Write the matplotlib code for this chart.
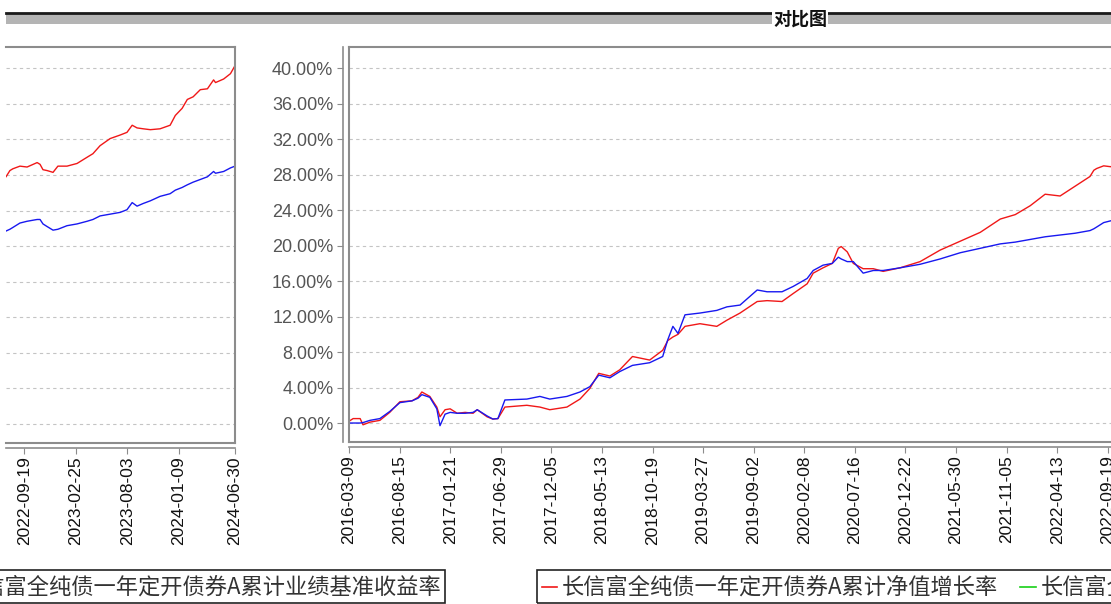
import matplotlib
matplotlib.use("Agg")
import matplotlib.pyplot as plt
import matplotlib.dates as mdates
from matplotlib.lines import Line2D
from matplotlib.patches import Rectangle
import pandas as pd

# chart data, percent
dates = [
    "2016-03-09", "2016-03-22", "2016-04-13", "2016-04-22", "2016-05-14",
    "2016-06-14", "2016-07-15", "2016-08-16", "2016-09-23", "2016-10-12",
    "2016-10-24", "2016-11-18", "2016-12-10", "2016-12-20", "2017-01-05",
    "2017-01-21", "2017-02-12", "2017-03-09", "2017-04-03", "2017-04-16",
    "2017-05-17", "2017-06-04", "2017-06-20", "2017-07-12", "2017-09-19",
    "2017-10-30", "2017-11-30", "2018-01-23", "2018-03-05", "2018-04-05",
    "2018-05-03", "2018-06-07", "2018-07-08", "2018-08-17", "2018-10-10",
    "2018-11-20", "2018-12-06", "2018-12-22", "2019-01-07", "2019-01-29",
    "2019-03-17", "2019-05-09", "2019-06-10", "2019-07-21", "2019-09-13",
    "2019-10-14", "2019-11-30", "2020-01-04", "2020-02-17", "2020-03-07",
    "2020-04-07", "2020-05-06", "2020-05-25", "2020-06-03", "2020-06-22",
    "2020-07-11", "2020-08-11", "2020-09-12", "2020-10-13", "2020-12-05",
    "2021-02-06", "2021-04-10", "2021-06-12", "2021-08-14", "2021-10-16",
    "2021-12-02", "2022-01-18", "2022-03-06", "2022-04-22", "2022-06-08",
    "2022-07-25", "2022-08-06", "2022-08-15", "2022-09-06", "2022-09-28",
    "2022-10-29", "2022-11-07", "2022-11-16", "2022-11-29", "2022-12-17",
    "2023-01-01", "2023-01-29", "2023-03-01", "2023-04-01", "2023-04-19",
    "2023-05-11", "2023-06-11", "2023-07-12", "2023-08-02", "2023-08-18",
    "2023-09-02", "2023-09-21", "2023-10-13", "2023-11-12", "2023-12-13",
    "2023-12-29", "2024-01-19", "2024-02-04", "2024-02-22", "2024-03-15",
    "2024-04-06", "2024-04-25", "2024-05-01", "2024-05-26", "2024-06-16",
    "2024-06-30",
]
nav_growth = [
    0.2, 0.5, 0.5, -0.2, 0.1, 0.3, 1.2, 2.4, 2.5, 2.9,
    3.5, 3.0, 1.8, 0.7, 1.5, 1.6, 1.1, 1.2, 1.1, 1.5,
    0.7, 0.45, 0.5, 1.8, 2.0, 1.8, 1.5, 1.8, 2.7, 3.9,
    5.6, 5.3, 6.0, 7.5, 7.1, 8.2, 9.3, 9.7, 10.0, 10.9,
    11.2, 10.9, 11.6, 12.4, 13.7, 13.8, 13.7, 14.6, 15.7, 16.9,
    17.5, 18.0, 19.7, 19.9, 19.3, 18.0, 17.4, 17.4, 17.1, 17.5,
    18.2, 19.5, 20.5, 21.5, 23.0, 23.5, 24.5, 25.8, 25.6, 26.7,
    27.8, 28.5, 28.7, 29.0, 28.9, 29.4, 29.2, 28.6, 28.5, 28.3,
    29.0, 29.0, 29.3, 30.0, 30.4, 31.3, 32.1, 32.5, 32.8, 33.6,
    33.3, 33.2, 33.1, 33.2, 33.6, 34.7, 35.5, 36.5, 36.8, 37.6,
    37.7, 38.7, 38.4, 38.8, 39.4, 40.3,
]
benchmark = [
    0.0, 0.0, 0.0, 0.05, 0.3, 0.5, 1.3, 2.3, 2.5, 2.8,
    3.2, 2.9, 1.6, -0.3, 1.0, 1.2, 1.1, 1.1, 1.2, 1.5,
    0.8, 0.45, 0.5, 2.6, 2.7, 3.0, 2.7, 3.0, 3.5, 4.1,
    5.4, 5.1, 5.8, 6.5, 6.8, 7.5, 9.4, 10.9, 10.1, 12.2,
    12.4, 12.7, 13.1, 13.3, 15.0, 14.8, 14.8, 15.4, 16.3, 17.2,
    17.8, 18.0, 18.7, 18.5, 18.2, 18.2, 16.9, 17.2, 17.2, 17.5,
    17.9, 18.5, 19.2, 19.7, 20.2, 20.4, 20.7, 21.0, 21.2, 21.4,
    21.7, 21.9, 22.1, 22.6, 22.8, 23.0, 23.0, 22.5, 22.2, 21.8,
    21.9, 22.3, 22.5, 22.8, 23.0, 23.4, 23.6, 23.8, 24.1, 24.9,
    24.5, 24.8, 25.1, 25.6, 25.9, 26.3, 26.6, 26.9, 27.2, 27.5,
    27.8, 28.4, 28.2, 28.4, 28.8, 29.0,
]
ticks_main = ["2016-03-09", "2016-08-15", "2017-01-21", "2017-06-29",
              "2017-12-05", "2018-05-13", "2018-10-19", "2019-03-27",
              "2019-09-02", "2020-02-08", "2020-07-16", "2020-12-22",
              "2021-05-30", "2021-11-05", "2022-04-13", "2022-09-19"]
ticks_tail = ["2022-09-19", "2023-02-25", "2023-08-03", "2024-01-09",
              "2024-06-30"]
yticks = list(range(0, 41, 4))
name_nav = "长信富全纯债一年定开债券A累计净值增长率"
name_bm = "长信富全纯债一年定开债券A累计业绩基准收益率"
title = "对比图"

W, H = 1111, 604
CJK = ["Noto Sans CJK SC", "DejaVu Sans"]
FRAME = "#8c8c8c"

x = pd.to_datetime(dates)


def px_box(left, top, right, bottom):
    return [left / W, 1 - bottom / H, (right - left) / W, (bottom - top) / H]


def fx(px):
    return px / W


def fy(py):
    return 1 - py / H


def frame(ax, sides):
    pts = {"top": ([0, 1], [1, 1]), "bottom": ([0, 1], [0, 0]),
           "left": ([0, 0], [0, 1]), "right": ([1, 1], [0, 1])}
    for s in sides:
        ax.add_line(Line2D(*pts[s], transform=ax.transAxes, color=FRAME,
                           lw=1.5, clip_on=False, zorder=5))


def style(ax, xlim, ticks):
    ax.plot(x, nav_growth, color="#f01818", lw=1.0, zorder=3)
    ax.plot(x, benchmark, color="#1818f0", lw=1.0, zorder=3)
    ax.set_xlim(pd.Timestamp(xlim[0]), pd.Timestamp(xlim[1]))
    ax.set_ylim(-2.14, 42.4)
    ax.set_yticks(yticks)
    ax.yaxis.grid(True, ls=(0, (3, 3)), color="#c4c4c4", lw=0.8)
    ax.set_axisbelow(True)
    for s in ["top", "right"]:
        ax.spines[s].set_visible(False)
    ax.spines["bottom"].set_position(("outward", 3.8))
    ax.spines["bottom"].set_color(FRAME)
    ax.spines["bottom"].set_linewidth(1.2)
    ax.set_xticks(pd.to_datetime(ticks))
    ax.xaxis.set_major_formatter(mdates.DateFormatter("%Y-%m-%d"))
    ax.tick_params(axis="x", direction="out", length=4, color=FRAME,
                   rotation=90, labelsize=12.5, labelcolor="#111111", pad=2)
    for lab in ax.get_xticklabels():
        lab.set_fontfamily("Liberation Sans")


fig = plt.figure(figsize=(W / 100, H / 100), dpi=100)

# main panel (cut at the right edge)
ax_r = fig.add_axes(px_box(349, 47, 1125, 442))
style(ax_r, ("2016-03-09", "2022-11-12"), ticks_main)
ax_r.spines["left"].set_position(("outward", 4.3))
ax_r.spines["left"].set_color(FRAME)
ax_r.spines["left"].set_linewidth(1.2)
ax_r.set_yticklabels([f"{v:.2f}%" for v in yticks])
ax_r.tick_params(axis="y", direction="out", length=4, color=FRAME,
                 labelsize=13, labelcolor="#555555", pad=3)
for lab in ax_r.get_yticklabels():
    lab.set_fontfamily("Liberation Sans")
frame(ax_r, ["top", "bottom", "left"])

# tail of the same chart (cut at the left edge)
ax_l = fig.add_axes(px_box(6, 47, 235, 443))
style(ax_l, ("2022-07-25", "2024-06-30"), ticks_tail)
ax_l.spines["left"].set_visible(False)
ax_l.tick_params(axis="y", left=False, labelleft=False)
frame(ax_l, ["top", "bottom", "right"])

# header band
fig.add_artist(Rectangle((fx(6), fy(24)), fx(1111) - fx(6), fy(14) - fy(24),
                         transform=fig.transFigure, color="#b4b4b4", lw=0))
fig.add_artist(Line2D([fx(6), 1], [fy(13), fy(13)],
                      transform=fig.transFigure, color="#1a1a1a", lw=2))
fig.text(fx(800), fy(19), title, ha="center", va="center", fontsize=13,
         fontweight="bold", family=CJK, color="#111111",
         bbox=dict(facecolor="white", edgecolor="none", pad=1))

# legend strips
fig.add_artist(Rectangle((fx(-40), fy(603)), fx(445) - fx(-40),
                         fy(570) - fy(603), transform=fig.transFigure,
                         fill=False, edgecolor="#222222", lw=1.2))
fig.text(fx(441), fy(587), name_bm, ha="right", va="center", fontsize=16,
         family=CJK, color="#333333")

fig.add_artist(Rectangle((fx(537), fy(603)), fx(1130) - fx(537),
                         fy(570) - fy(603), transform=fig.transFigure,
                         fill=False, edgecolor="#222222", lw=1.2))
fig.add_artist(Line2D([fx(542), fx(557)], [fy(587), fy(587)],
                      transform=fig.transFigure, color="#f01818", lw=1.2))
fig.text(fx(562), fy(587), name_nav, ha="left", va="center", fontsize=16,
         family=CJK, color="#333333")
fig.add_artist(Line2D([fx(1020), fx(1036)], [fy(587), fy(587)],
                      transform=fig.transFigure, color="#18d018", lw=1.2))
fig.text(fx(1041), fy(587), name_bm, ha="left", va="center", fontsize=16,
         family=CJK, color="#333333")

fig.savefig("out.png", dpi=100)
